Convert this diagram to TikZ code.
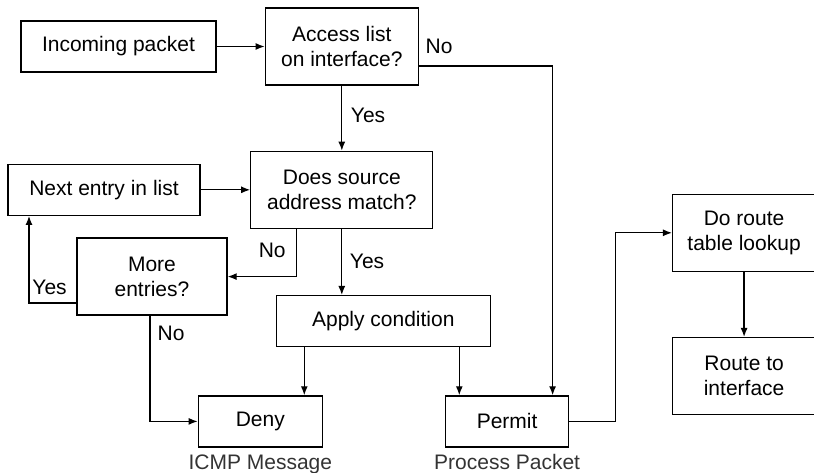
\documentclass[tikz,border=0pt]{standalone}
\usepackage{fontspec}
\setmainfont{Liberation Sans}
\usepackage{tikz}
\usetikzlibrary{arrows.meta, positioning}
\tikzstyle{block} = [rectangle, draw, line width=1.3pt, align=center, inner sep=0pt,
    minimum height=51pt]
\tikzstyle{tall} = [minimum height=77pt]
\tikzstyle{line} = [draw, line width=1.3pt, -{Latex[length=9pt,width=7pt]}]
\tikzstyle{answer} = [inner sep=0pt]
\tikzstyle{caption} = [inner sep=0pt, text=black!80, anchor=base]

\begin{document}
\begin{tikzpicture}[x=1pt, y=-1pt, node distance=48pt,
    font=\fontsize{21}{25}\selectfont]
      \useasboundingbox (0,0) rectangle (814,473);
      % Access list check
      \node [block, minimum width=195pt] (incoming) at (118.5,46.5) {Incoming packet};
      \node [block, tall, minimum width=153pt, right=of incoming] (acl) {Access list\\on interface?};
      \node [block, tall, minimum width=182pt, below=65pt of acl] (match) {Does source\\address match?};
      \node [block, minimum width=192pt, left=49.5pt of match] (next) {Next entry in list};
      \node [block, tall, minimum width=150pt, below=21.5pt of next, xshift=48pt] (more) {More\\entries?};
      \node [block, minimum width=214pt, below=66pt of match, xshift=41.5pt] (apply) {Apply condition};
      % Outcomes
      \node [block, minimum width=124pt, below=48pt of apply, xshift=-123pt] (deny) {Deny};
      \node [block, minimum width=123pt, right=122pt of deny] (permit) {Permit};
      \node [caption] (icmp) at ([yshift=-22pt]deny.south) {ICMP Message};
      \node [caption] (process) at ([yshift=-22pt]permit.south) {Process Packet};
      \node [block, tall, minimum width=143pt, right=238.5pt of match, yshift=-43pt] (lookup) {Do route\\table lookup};
      \node [block, tall, minimum width=143pt, below=65pt of lookup] (route) {Route to\\interface};
      % Draw edges
      \path [line] (incoming) -- (acl);
      \path [line] ([yshift=-19.5pt]acl.east) -| ([xshift=45.5pt]permit.north)
          node [answer, pos=0, anchor=base west, xshift=6pt, yshift=12pt] (acl-no) {No};
      \path [line] (acl) -- (match)
          node [answer, midway, anchor=base west, xshift=8.5pt, yshift=-4.5pt] (acl-yes) {Yes};
      \path [line] (next) -- (match);
      \path [line] ([xshift=-45.5pt]match.south) |- (more.east)
          node [answer, pos=0, anchor=base east, xshift=-10pt, yshift=-29pt] (match-no) {No};
      \path [line] (match.south) -- (match.south |- apply.north)
          node [answer, pos=0, anchor=base west, xshift=7.5pt, yshift=-40pt] (match-yes) {Yes};
      \path [line] ([yshift=-26.5pt]more.west) -| ([xshift=-75pt]next.south)
          node [answer, pos=0, anchor=base east, xshift=-9pt, yshift=9pt] (more-yes) {Yes};
      \path [line] ([xshift=-2pt]more.south) |- (deny.west)
          node [answer, pos=0, anchor=base west, xshift=7pt, yshift=-24.7pt] (more-no) {No};
      \path [line] ([xshift=-79pt]apply.south) -- ([xshift=-79pt]apply.south |- deny.north);
      \path [line] ([xshift=76pt]apply.south) -- ([xshift=76pt]apply.south |- permit.north);
      \path [line] (permit.east) -- ++(46,0) |- (lookup.west);
      \path [line] (lookup) -- (route);
    \end{tikzpicture}
\end{document}
